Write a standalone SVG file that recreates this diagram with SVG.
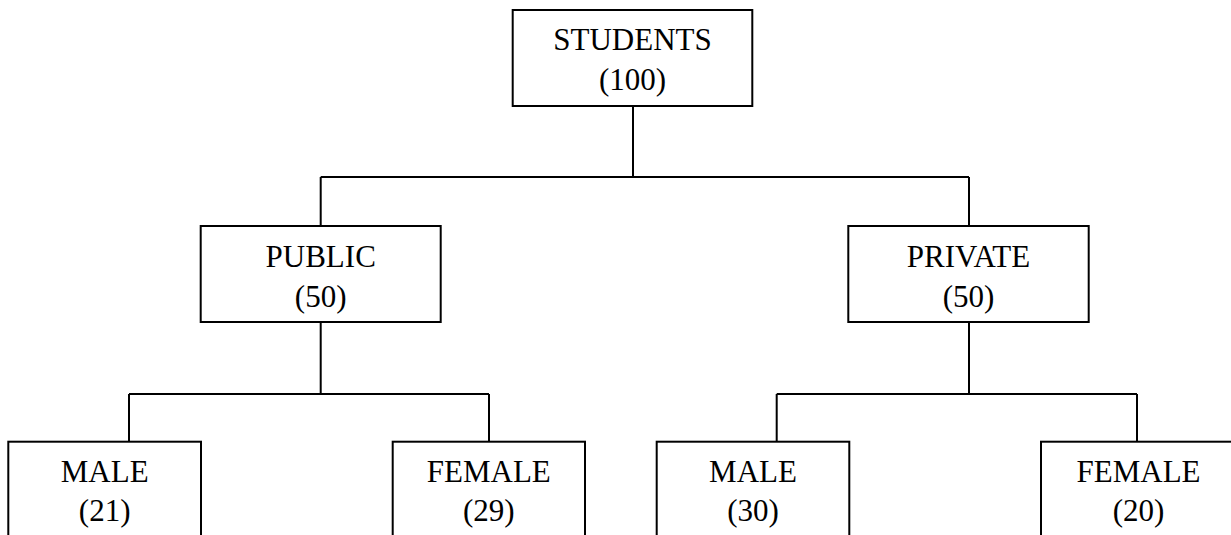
<svg xmlns="http://www.w3.org/2000/svg" width="1231" height="535" viewBox="0 0 1231 535">
<style>
.box{fill:#fff;stroke:#000;stroke-width:2}
.con{fill:none;stroke:#000;stroke-width:2}
text{font-family:"Liberation Serif","Times New Roman",serif;font-size:31px;fill:#000;text-anchor:middle}
</style>
<rect width="1231" height="535" fill="#fff"/>
<g id="connectors">
<path class="con" d="M633 106V177M320.7 177H969M320.7 177V226M969 177V226"/>
<path class="con" d="M320.7 322V394M129 394H489M129 394V441.7M489 394V441.7"/>
<path class="con" d="M969 322V394M776.7 394H1137M776.7 394V441.7M1137 394V441.7"/>
</g>
<g id="students">
<rect class="box" x="512.7" y="10" width="239.6" height="96"/>
<text x="632.5" y="50">STUDENTS</text>
<text x="632.5" y="90">(100)</text>
</g>
<g id="public">
<rect class="box" x="200.7" y="226" width="240" height="96"/>
<text x="320.7" y="266.7">PUBLIC</text>
<text x="320.7" y="306.7">(50)</text>
</g>
<g id="private">
<rect class="box" x="848.3" y="226" width="240.4" height="96"/>
<text x="968.5" y="266.7">PRIVATE</text>
<text x="968.5" y="306.7">(50)</text>
</g>
<g id="public-male">
<rect class="box" x="8.3" y="441.7" width="192.7" height="110"/>
<text x="104.7" y="481.7">MALE</text>
<text x="104.7" y="520.5">(21)</text>
</g>
<g id="public-female">
<rect class="box" x="392.7" y="441.7" width="192.3" height="110"/>
<text x="488.8" y="481.7">FEMALE</text>
<text x="488.8" y="520.5">(29)</text>
</g>
<g id="private-male">
<rect class="box" x="656.7" y="441.7" width="192.6" height="110"/>
<text x="753" y="481.7">MALE</text>
<text x="753" y="520.5">(30)</text>
</g>
<g id="private-female">
<rect class="box" x="1041" y="441.7" width="195" height="110"/>
<text x="1138.5" y="481.7">FEMALE</text>
<text x="1138.5" y="520.5">(20)</text>
</g>
</svg>
